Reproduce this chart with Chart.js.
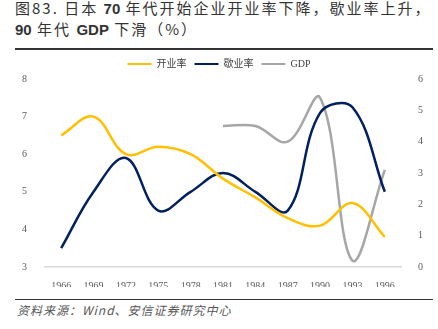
<!DOCTYPE html>
<html>
<head>
<meta charset="utf-8">
<script src="https://cdn.jsdelivr.net/npm/chart.js@4.4.1/dist/chart.umd.min.js"></script>
<style>
  html, body { margin: 0; padding: 0; background: #fff; }
  #wrap { position: relative; width: 438px; height: 329px; overflow: hidden; }
  .title {
    position: absolute; left: 15px; top: -2px; width: 420px;
    font-family: "Noto Sans CJK SC", sans-serif; font-size: 15px; line-height: 20px;
    color: #333; letter-spacing: 2px; white-space: nowrap;
  }
  .title b { font-family: "Liberation Sans", Arial, sans-serif; font-weight: bold; letter-spacing: 0; }
  .rule { position: absolute; left: 15px; width: 418px; background: #333; }
  #chartBox { position: absolute; left: 0; top: 51px; width: 438px; height: 236px; }
  .source {
    position: absolute; left: 17px; top: 301px;
    font-family: "Noto Sans CJK SC", sans-serif; font-size: 12px; font-style: italic;
    color: #555; letter-spacing: 1px; white-space: nowrap;
  }
</style>
</head>
<body>
<div id="wrap">
  <div class="title">
    <div>图83. 日本 <b>70</b> 年代开始企业开业率下降，歇业率上升，</div>
    <div><b>90</b> 年代 <b>GDP</b> 下滑（%）</div>
  </div>
  <div class="rule" style="top:48px;height:2px;"></div>
  <div id="chartBox"><canvas id="myChart"></canvas></div>
  <div class="rule" style="top:299px;height:1px;"></div>
  <div class="source">资料来源：Wind、安信证券研究中心</div>
</div>
<script>
// Years on the category axis (every three years)
const years = ['1966', '1969', '1972', '1975', '1978', '1981', '1984', '1987', '1990', '1993', '1996'];

// Business start-up rate (%), left axis
const openRate = [6.5, 7.0, 6.0, 6.2, 6.0, 5.35, 4.85, 4.3, 4.1, 4.7, 3.8];

// Business closure rate (%), left axis
const closeRate = [3.5, 5.0, 5.9, 4.5, 5.0, 5.5, 5.0, 4.5, 7.1, 7.25, 5.0];

// Real GDP growth (%), right axis, from 1981 on
const gdpGrowth = [null, null, null, null, null, 4.5, 4.5, 4.0, 5.4, 0.2, 3.1];

const tickFont = { family: '"Liberation Serif", "Times New Roman", serif', size: 10 };
const tickColor = '#595959';

const data = {
    labels: years,
    datasets: [{
        label: '开业率',
        data: openRate,
        borderColor: '#FFC000',
        backgroundColor: '#FFC000',
        yAxisID: 'y',
    }, {
        label: '歇业率',
        data: closeRate,
        borderColor: '#002060',
        backgroundColor: '#002060',
        yAxisID: 'y',
    }, {
        label: 'GDP',
        data: gdpGrowth,
        borderColor: '#A6A6A6',
        backgroundColor: '#A6A6A6',
        yAxisID: 'y1',
    }],
};

const options = {
    responsive: true,
    maintainAspectRatio: false,
    animation: false,
    layout: { padding: { top: 0, left: 0, right: 0, bottom: 0 } },
    elements: {
        line: { borderWidth: 2.5, tension: 0.38, fill: false },
        point: { radius: 0, hoverRadius: 0 },
    },
    plugins: {
        legend: {
            position: 'top',
            labels: {
                font: { family: '"Liberation Serif", "Noto Sans CJK SC", serif', size: 10 },
                color: '#404040',
                boxWidth: 24,
                boxHeight: 2,
                padding: 8,
                generateLabels: chart => chart.data.datasets.map((ds, i) => ({
                    text: ds.label,
                    fillStyle: ds.borderColor,
                    strokeStyle: ds.borderColor,
                    lineWidth: 0,
                    fontColor: '#404040',
                    datasetIndex: i,
                    hidden: false,
                })),
            },
        },
        tooltip: { enabled: false },
    },
    scales: {
        x: {
            offset: true,
            grid: { display: false },
            border: { display: true, color: '#D9D9D9', width: 1.5 },
            ticks: { font: tickFont, color: tickColor, padding: 5, maxRotation: 0, autoSkip: false },
            afterFit: s => { s.height = 20; },
        },
        y: {
            position: 'left',
            min: 3,
            max: 8,
            grid: { display: false },
            border: { display: false },
            ticks: { stepSize: 1, font: tickFont, color: tickColor, padding: 10 },
            afterFit: s => { s.width = 45; },
        },
        y1: {
            position: 'right',
            min: 0,
            max: 6,
            grid: { display: false },
            border: { display: false },
            ticks: { stepSize: 1, font: tickFont, color: tickColor, padding: 9 },
            afterFit: s => { s.width = 37; },
        },
    },
};

const ctx = document.getElementById('myChart').getContext('2d');
const myChart = new Chart(ctx, {
    type: 'line',
    data: data,
    options: options,
});
</script>
</body>
</html>
